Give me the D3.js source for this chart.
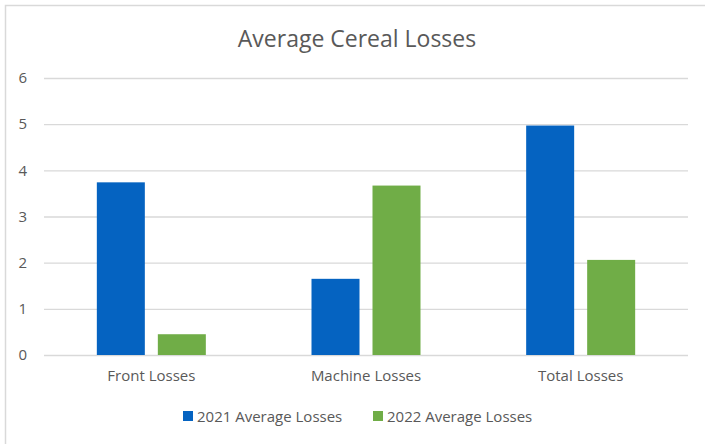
<!DOCTYPE html>
<html>
<head>
<meta charset="utf-8">
<script src="https://cdn.jsdelivr.net/npm/d3@7"></script>
<style>
    html, body { margin: 0; padding: 0; background: #fff; }
    svg { display: block; font-family: "Open Sans", "Liberation Sans", sans-serif; }
</style>
</head>
<body>
<div id="chart"></div>
<script>
var categories = ["Front Losses", "Machine Losses", "Total Losses"];
var seriesNames = ["2021 Average Losses", "2022 Average Losses"];
var values2021 = [3.74, 1.65, 4.97];
var values2022 = [0.45, 3.67, 2.06];
var yTicks = [0, 1, 2, 3, 4, 5, 6];
var colors = ["#0563C1", "#70AD47"];

var width = 705, height = 444;
var margin = { top: 78, right: 17, bottom: 89, left: 44 };

var svg = d3.select("#chart").append("svg")
    .attr("width", width)
    .attr("height", height);

// outer chart border (only left and top are in view)
svg.append("path")
    .attr("d", "M5.5," + (height + 2) + "V5.5H" + (width + 2))
    .attr("fill", "none")
    .attr("stroke", "#d9d9d9")
    .attr("stroke-width", 1.5);

svg.append("text")
    .attr("x", 357)
    .attr("y", 47)
    .attr("text-anchor", "middle")
    .attr("font-size", "23px")
    .attr("fill", "#595959")
    .text("Average Cereal Losses");

var x0 = d3.scaleBand()
    .domain(categories)
    .range([margin.left, width - margin.right]);

var x1 = d3.scaleBand()
    .domain(seriesNames)
    .range([0, 48 * 2 + 13])
    .paddingInner(13 / 61);

var y = d3.scaleLinear()
    .domain([0, 6])
    .range([height - margin.bottom, margin.top]);

var yAxis = svg.append("g")
    .attr("transform", "translate(" + margin.left + ",0)")
    .call(d3.axisLeft(y).tickValues(yTicks).tickFormat(d3.format("d"))
        .tickSize(-(width - margin.left - margin.right)).tickPadding(17));
yAxis.select(".domain").remove();
yAxis.selectAll(".tick line").attr("stroke", "#d9d9d9").attr("stroke-width", 1.3);
yAxis.selectAll(".tick text")
    .attr("fill", "#595959")
    .attr("font-size", "15px")
    .attr("font-family", "\"Open Sans\", sans-serif");

var groups = svg.append("g").selectAll("g")
    .data(categories)
    .join("g")
    .attr("transform", function(d) {
        return "translate(" + (x0(d) + (x0.bandwidth() - x1.range()[1]) / 2) + ",0)";
    });

groups.selectAll("rect")
    .data(function(d, i) {
        return [
            { key: seriesNames[0], value: values2021[i], c: colors[0] },
            { key: seriesNames[1], value: values2022[i], c: colors[1] }
        ];
    })
    .join("rect")
    .attr("x", function(d) { return x1(d.key); })
    .attr("width", x1.bandwidth())
    .attr("y", function(d) { return y(d.value); })
    .attr("height", function(d) { return y(0) - y(d.value); })
    .attr("fill", function(d) { return d.c; });

var xAxis = svg.append("g")
    .attr("transform", "translate(0," + y(0) + ")")
    .call(d3.axisBottom(x0).tickSize(0).tickPadding(15));
xAxis.select(".domain").remove();
xAxis.selectAll(".tick text")
    .attr("fill", "#595959")
    .attr("font-size", "15px")
    .attr("font-family", "\"Open Sans\", sans-serif");

var legendX = [183, 373];
var legend = svg.append("g").selectAll("g")
    .data(seriesNames)
    .join("g")
    .attr("transform", function(d, i) { return "translate(" + legendX[i] + ",411)"; });
legend.append("rect")
    .attr("width", 10)
    .attr("height", 10)
    .attr("fill", function(d, i) { return colors[i]; });
legend.append("text")
    .attr("x", 14)
    .attr("y", 11)
    .attr("font-size", "15px")
    .attr("fill", "#595959")
    .text(function(d) { return d; });
</script>
</body>
</html>
